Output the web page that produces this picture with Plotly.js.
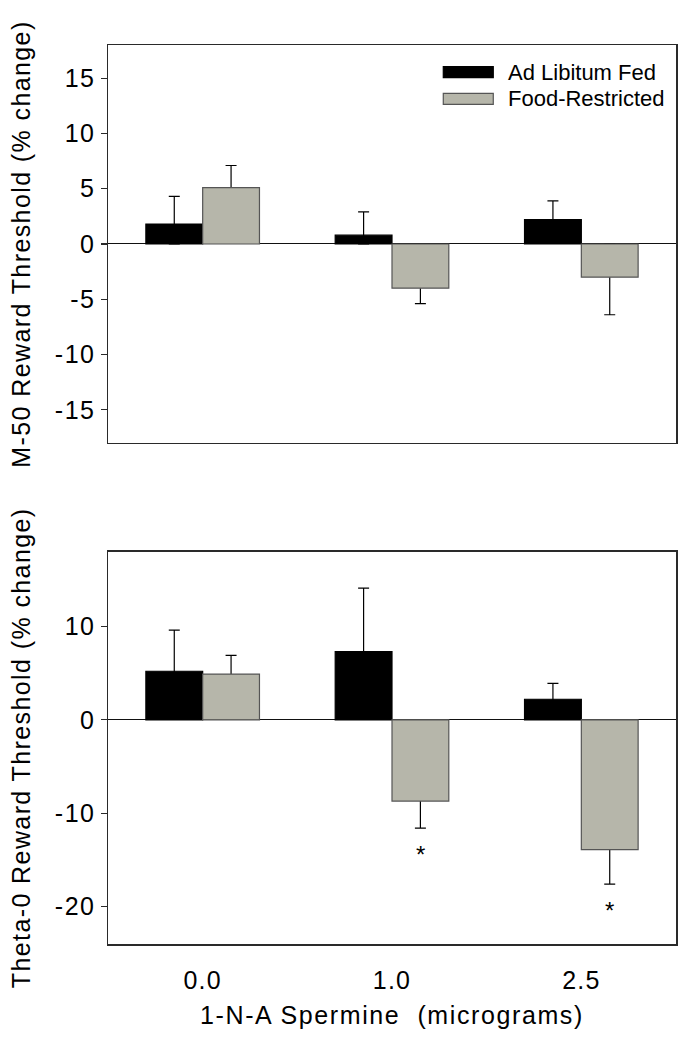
<!DOCTYPE html>
<html>
<head>
<meta charset="utf-8">
<script src="https://cdn.plot.ly/plotly-3.0.1.min.js"></script>
<style>
  html, body { margin: 0; padding: 0; background: #fff; }
  #chart { width: 690px; height: 1050px; }
  .ytitle, .y2title { letter-spacing: 1.4px; }
  .xtitle, .x2title { letter-spacing: 1.6px; }
  .xtick text, .x2tick text { letter-spacing: 1.2px; }
  .ytick text, .y2tick text { letter-spacing: 1.5px; }
</style>
</head>
<body>
<div id="chart"></div>
<script>
// ---- data ----
const categories = ['0.0', '1.0', '2.5'];
const seriesNames = ['Ad Libitum Fed', 'Food-Restricted'];

// Top panel: M-50 reward threshold (% change)
const m50AdLib = [1.8, 0.8, 2.2];
const m50AdLibErr = [2.5, 2.1, 1.7];
const m50FoodR = [5.1, -4.0, -3.0];
const m50FoodRErr = [2.0, 1.4, 3.4];

// Bottom panel: Theta-0 reward threshold (% change)
const th0AdLib = [5.2, 7.3, 2.2];
const th0AdLibErr = [4.4, 6.8, 1.7];
const th0FoodR = [4.9, -8.7, -13.9];
const th0FoodRErr = [2.0, 2.9, 3.7];
const th0FoodRSig = [false, true, true];

const yTicksTop = [-15, -10, -5, 0, 5, 10, 15];
const yTicksBottom = [-20, -10, 0, 10];

const xTitle = '1-N-A Spermine \u00a0(micrograms)';
const yTitleTop = 'M-50 Reward Threshold (% change)';
const yTitleBottom = 'Theta-0 Reward Threshold (% change)';

// ---- styling ----
const FONT = 'Liberation Sans, Arial, Helvetica, sans-serif';
const BLACK = '#000000';
const GRAY = '#b6b6aa';
const GRAY_LINE = '#555555';
const FRAME = '#2a2a2a';

// outward part of each error bar; inner part runs back toward zero and is hidden under the bar
function outErr(vals, errs) { return vals.map((v, i) => errs[i]); }
function inErr(vals, errs) { return vals.map((v, i) => Math.min(errs[i], Math.abs(v))); }

// error-bar carrier (transparent bar, same slot) drawn first, real bars drawn over it
function errTrace(vals, errs, group, xa, ya) {
  const pos = vals.map(v => v >= 0);
  const out = outErr(vals, errs), inn = inErr(vals, errs);
  return {
    type: 'bar', x: categories, y: vals, offsetgroup: group,
    xaxis: xa, yaxis: ya, showlegend: false, hoverinfo: 'skip',
    marker: { color: 'rgba(0,0,0,0)', line: { width: 0 } },
    error_y: {
      type: 'data', symmetric: false,
      array: vals.map((v, i) => pos[i] ? out[i] : inn[i]),
      arrayminus: vals.map((v, i) => pos[i] ? inn[i] : out[i]),
      color: '#000', thickness: 1.2, width: 5.5
    }
  };
}
function barTrace(vals, name, group, color, lineColor, xa, ya) {
  return {
    type: 'bar', x: categories, y: vals, name: name, offsetgroup: group,
    xaxis: xa, yaxis: ya, showlegend: false,
    marker: { color: color, line: { color: lineColor, width: 1.2 } },
    hoverinfo: 'x+y'
  };
}

const data = [
  errTrace(m50AdLib, m50AdLibErr, 'a', 'x', 'y'),
  errTrace(m50FoodR, m50FoodRErr, 'b', 'x', 'y'),
  barTrace(m50AdLib, seriesNames[0], 'a', BLACK, BLACK, 'x', 'y'),
  barTrace(m50FoodR, seriesNames[1], 'b', GRAY, GRAY_LINE, 'x', 'y'),
  errTrace(th0AdLib, th0AdLibErr, 'a', 'x2', 'y2'),
  errTrace(th0FoodR, th0FoodRErr, 'b', 'x2', 'y2'),
  barTrace(th0AdLib, seriesNames[0], 'a', BLACK, BLACK, 'x2', 'y2'),
  barTrace(th0FoodR, seriesNames[1], 'b', GRAY, GRAY_LINE, 'x2', 'y2')
];

// significance asterisks below the food-restricted error bars
const annotations = [];
th0FoodRSig.forEach((sig, i) => {
  if (!sig) return;
  const v = th0FoodR[i];
  const tip = v < 0 ? v - th0FoodRErr[i] : v + th0FoodRErr[i];
  annotations.push({
    xref: 'x2', yref: 'y2', x: i + 0.15, y: tip,
    text: '*', showarrow: false, xanchor: 'center', yanchor: 'middle',
    yshift: -26, font: { family: FONT, size: 24, color: '#000' }
  });
});

// legend drawn as wide swatches (inside the top panel)
const legendColors = [[BLACK, BLACK], [GRAY, GRAY_LINE]];
const shapes = [];
seriesNames.forEach((nm, i) => {
  const yTop = [0.9455, 0.8786][i];
  const yBot = [0.9178, 0.8510][i];
  shapes.push({
    type: 'rect', xref: 'x domain', yref: 'y domain',
    x0: 0.5903, x1: 0.6783, y0: yBot, y1: yTop,
    fillcolor: legendColors[i][0], line: { color: legendColors[i][1], width: 1.2 }
  });
  annotations.push({
    xref: 'x domain', yref: 'y domain', x: 0.700, y: (yTop + yBot) / 2,
    text: nm, showarrow: false, xanchor: 'left', yanchor: 'middle',
    font: { family: FONT, size: 22, color: '#000' }
  });
});

const commonX = {
  type: 'category', range: [-0.5, 2.5],
  showline: true, mirror: true, linecolor: FRAME, linewidth: 1.5,
  showgrid: false, zeroline: false, ticks: '', fixedrange: true
};
const commonY = {
  showline: true, mirror: true, linecolor: FRAME, linewidth: 1.5,
  showgrid: false, zeroline: true, zerolinecolor: '#111', zerolinewidth: 1,
  ticks: 'outside', ticklen: 6, tickwidth: 1.2, tickcolor: FRAME,
  tickfont: { family: FONT, size: 25, color: '#000' },
  ticklabelstandoff: 0, automargin: false, fixedrange: true
};

const layout = {
  width: 690, height: 1050,
  margin: { l: 108, r: 14, t: 45, b: 106 },
  paper_bgcolor: '#ffffff', plot_bgcolor: '#ffffff',
  font: { family: FONT, color: '#000' },
  barmode: 'group', bargap: 0.4, bargroupgap: 0,
  xaxis: Object.assign({}, commonX, { anchor: 'y', showticklabels: false }),
  yaxis: Object.assign({}, commonY, {
    domain: [0.5573, 1], range: [-18, 18],
    tickmode: 'array', tickvals: yTicksTop, ticktext: yTicksTop.map(String),
    title: { text: yTitleTop, font: { family: FONT, size: 25 }, standoff: 17 }
  }),
  xaxis2: Object.assign({}, commonX, {
    anchor: 'y2', matches: 'x', showticklabels: true,
    tickfont: { family: FONT, size: 25, color: '#000' },
    ticklabelstandoff: 13,
    title: { text: xTitle, font: { family: FONT, size: 25 }, standoff: 14 }
  }),
  yaxis2: Object.assign({}, commonY, {
    domain: [0, 0.4364], range: [-24, 18],
    tickmode: 'array', tickvals: yTicksBottom, ticktext: yTicksBottom.map(String),
    title: { text: yTitleBottom, font: { family: FONT, size: 25 }, standoff: 17 }
  }),
  shapes: shapes,
  annotations: annotations,
  showlegend: false
};

Plotly.newPlot('chart', data, layout, { displayModeBar: false, staticPlot: true });
</script>
</body>
</html>
